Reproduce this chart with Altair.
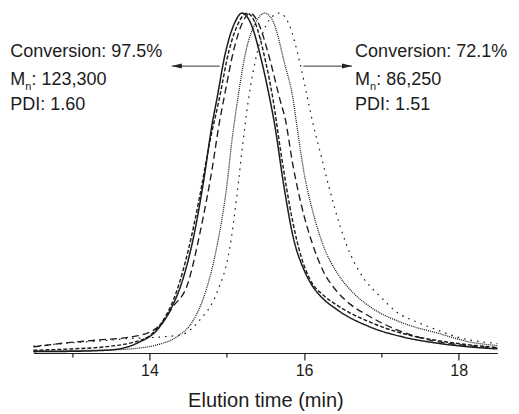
import altair as alt
import pandas as pd

# ---- curve data (elution time in min, normalised detector response) ----
t_solid = [12.5, 13.0, 13.5, 13.85, 14.1, 14.27, 14.43, 14.57, 14.69, 14.82, 14.87, 14.98, 15.1, 15.2, 15.3, 15.45, 15.56, 15.61, 15.74, 15.86, 16.0, 16.1, 16.21, 16.43, 16.86, 17.28, 17.72, 18.14, 18.5]
v_solid = [0.004, 0.005, 0.009, 0.03, 0.068, 0.126, 0.215, 0.34, 0.49, 0.685, 0.744, 0.88, 0.97, 1.0, 0.975, 0.86, 0.744, 0.685, 0.49, 0.34, 0.244, 0.2, 0.168, 0.127, 0.076, 0.047, 0.029, 0.018, 0.012]

t_sdash = [12.5, 13.0, 13.5, 13.8, 14.0, 14.18, 14.35, 14.5, 14.65, 14.78, 14.9, 15.03, 15.15, 15.26, 15.36, 15.5, 15.6, 15.7, 15.85, 15.96, 16.08, 16.25, 16.43, 16.86, 17.3, 17.8, 18.5]
v_sdash = [0.008, 0.012, 0.02, 0.032, 0.05, 0.097, 0.18, 0.3, 0.46, 0.62, 0.744, 0.89, 0.97, 1.0, 0.975, 0.86, 0.744, 0.59, 0.39, 0.285, 0.215, 0.17, 0.14, 0.09, 0.056, 0.034, 0.016]

t_ldash = [12.5, 12.89, 13.32, 13.75, 14.01, 14.15, 14.3, 14.49, 14.66, 14.81, 14.91, 14.96, 15.1, 15.2, 15.3, 15.4, 15.55, 15.69, 15.76, 15.85, 15.96, 16.11, 16.25, 16.43, 16.6, 16.86, 17.2, 17.63, 18.1, 18.5]
v_ldash = [0.018, 0.029, 0.038, 0.047, 0.062, 0.085, 0.135, 0.2, 0.36, 0.54, 0.685, 0.744, 0.9, 0.97, 1.0, 0.975, 0.87, 0.744, 0.685, 0.56, 0.44, 0.32, 0.24, 0.18, 0.143, 0.106, 0.068, 0.038, 0.022, 0.015]

t_fdot = [12.5, 13.0, 13.5, 13.8, 14.1, 14.35, 14.57, 14.74, 14.87, 15.0, 15.07, 15.14, 15.25, 15.37, 15.49, 15.6, 15.75, 15.86, 15.9, 16.0, 16.12, 16.25, 16.43, 16.64, 16.86, 17.28, 17.72, 18.15, 18.5]
v_fdot = [0.006, 0.007, 0.009, 0.013, 0.024, 0.047, 0.097, 0.19, 0.31, 0.49, 0.63, 0.744, 0.89, 0.97, 1.0, 0.975, 0.85, 0.744, 0.68, 0.53, 0.41, 0.315, 0.235, 0.176, 0.135, 0.088, 0.059, 0.032, 0.022]

t_sdot = [12.5, 13.0, 13.5, 13.7, 14.0, 14.2, 14.43, 14.65, 14.87, 15.04, 15.13, 15.21, 15.28, 15.4, 15.55, 15.68, 15.8, 15.95, 16.05, 16.12, 16.21, 16.32, 16.47, 16.6, 16.77, 16.99, 17.2, 17.46, 17.72, 17.98, 18.5]
v_sdot = [0.02, 0.03, 0.038, 0.042, 0.045, 0.048, 0.055, 0.097, 0.176, 0.31, 0.46, 0.62, 0.744, 0.89, 0.98, 1.0, 0.97, 0.85, 0.744, 0.67, 0.59, 0.49, 0.37, 0.29, 0.22, 0.165, 0.12, 0.091, 0.068, 0.047, 0.028]

series_names = ["solid", "short dash", "long dash", "fine dot", "sparse dot"]

# ---- annotation content ----
conv_labels = ["Conversion: 97.5%", "Conversion: 72.1%"]
mn_values = [": 123,300", ": 86,250"]
pdi_labels = ["PDI: 1.60", "PDI: 1.51"]
label_x = [12.2, 16.66]
row_y = [0.871, 0.789, 0.715]
arrow_from = [14.91, 15.99]
arrow_to = [14.29, 16.62]
arrow_y = [0.844, 0.844]

rows = []
for name, ts, vs in zip(series_names,
                        [t_solid, t_sdash, t_ldash, t_fdot, t_sdot],
                        [v_solid, v_sdash, v_ldash, v_fdot, v_sdot]):
    for i, (t, v) in enumerate(zip(ts, vs)):
        rows.append({"series": name, "t": t, "v": v, "i": i})
df = pd.DataFrame(rows)

FONT = "Liberation Sans"
INK = "#1c1c1c"
FS = 18
x_scale = alt.Scale(domain=[12.5, 18.5], nice=False, zero=False)
y_scale = alt.Scale(domain=[0, 1.015], nice=False, zero=True)

x_axis = alt.Axis(
    values=[13, 14, 15, 16, 17, 18],
    format="d",
    labelExpr="datum.value % 2 == 0 ? datum.label : ''",
    tickSize={"condition": {"test": "datum.value % 2 == 0", "value": 7}, "value": 4},
    title="Elution time (min)",
    grid=False,
)

lines = alt.Chart(df).mark_line(interpolate="monotone", color=INK).encode(
    x=alt.X("t:Q", scale=x_scale, axis=x_axis),
    y=alt.Y("v:Q", scale=y_scale, axis=None),
    detail="series:N",
    order="i:Q",
    strokeDash=alt.StrokeDash("series:N", scale=alt.Scale(
        domain=series_names, range=[[1, 0], [4, 2], [7, 4], [1, 1], [1.6, 5]]), legend=None),
    strokeWidth=alt.StrokeWidth("series:N", scale=alt.Scale(
        domain=series_names, range=[1.5, 1.2, 1.5, 0.9, 1.6]), legend=None),
)

arrows = pd.DataFrame({"x0": arrow_from, "x1": arrow_to, "y": arrow_y})
rules = alt.Chart(arrows).mark_rule(color="#333", strokeWidth=1).encode(
    x=alt.X("x0:Q", scale=x_scale), x2="x1:Q", y=alt.Y("y:Q", scale=y_scale))

left_head = alt.Chart(arrows.iloc[[0]]).mark_point(
    shape="M-1,0L1,-0.5L1,0.5Z", size=100, filled=True, color="#222", opacity=1, xOffset=5
).encode(x=alt.X("x1:Q", scale=x_scale), y=alt.Y("y:Q", scale=y_scale))
right_head = alt.Chart(arrows.iloc[[1]]).mark_point(
    shape="M1,0L-1,-0.5L-1,0.5Z", size=100, filled=True, color="#222", opacity=1, xOffset=-5
).encode(x=alt.X("x1:Q", scale=x_scale), y=alt.Y("y:Q", scale=y_scale))

txt = pd.DataFrame({
    "x": label_x * 3,
    "y": [row_y[0]] * 2 + [row_y[1]] * 2 + [row_y[2]] * 2,
    "text": conv_labels + ["M", "M"] + pdi_labels,
})
mn = pd.DataFrame({"x": label_x, "y": [row_y[1]] * 2, "text": mn_values})
sub = pd.DataFrame({"x": label_x, "y": [row_y[1]] * 2, "text": ["n", "n"]})

text_main = alt.Chart(txt).mark_text(
    align="left", baseline="alphabetic", font=FONT, fontSize=FS, color=INK
).encode(x=alt.X("x:Q", scale=x_scale), y=alt.Y("y:Q", scale=y_scale), text="text:N")
text_mn = alt.Chart(mn).mark_text(
    align="left", baseline="alphabetic", font=FONT, fontSize=FS, color=INK, dx=21.2
).encode(x=alt.X("x:Q", scale=x_scale), y=alt.Y("y:Q", scale=y_scale), text="text:N")
text_sub = alt.Chart(sub).mark_text(
    align="left", baseline="alphabetic", font=FONT, fontSize=11, color=INK, dx=15, dy=5
).encode(x=alt.X("x:Q", scale=x_scale), y=alt.Y("y:Q", scale=y_scale), text="text:N")

chart = alt.layer(lines, rules, left_head, right_head, text_main, text_mn, text_sub).properties(
    width=464, height=345,
    autosize=alt.AutoSizeParams(type="none"),
    padding={"left": 25.4, "top": 0, "right": 13.6, "bottom": 59},
).configure_view(stroke=None).configure_axis(
    domainColor=INK, domainWidth=1.2, tickColor=INK, tickWidth=1.2,
    labelFont=FONT, labelFontSize=16, labelColor=INK, labelPadding=2,
    titleFont=FONT, titleFontSize=20, titleFontWeight="normal", titleColor=INK, titlePadding=12,
)

chart.save("out.html", embed_options={"renderer": "svg", "actions": False})
